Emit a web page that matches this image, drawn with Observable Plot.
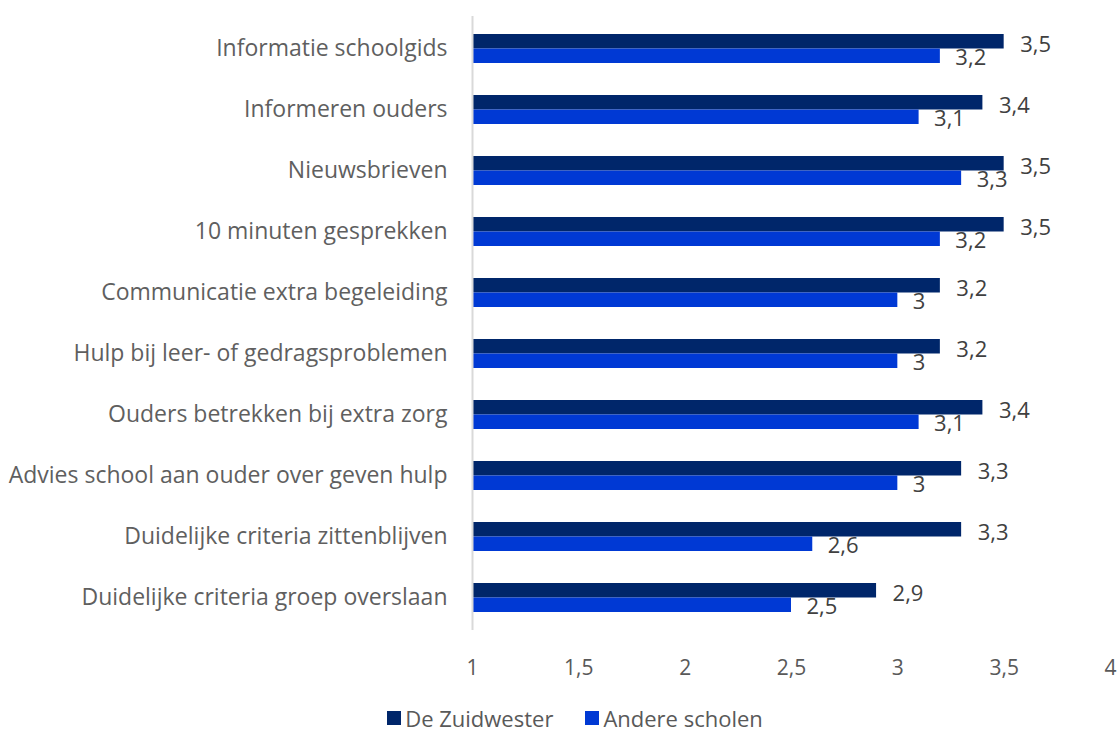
<!DOCTYPE html>
<html><head><meta charset="utf-8">
<script src="https://cdn.jsdelivr.net/npm/d3@7"></script>
<script src="https://cdn.jsdelivr.net/npm/@observablehq/plot@0.6"></script>
<style>
body{margin:0;background:#fff;font-family:"Open Sans",sans-serif;overflow:hidden;}
#legend{display:flex;justify-content:center;gap:32px;font-size:22px;line-height:26px;color:#595959;margin-top:15px;margin-left:30px;}
#legend span{display:flex;align-items:center;gap:4px;}
#legend i{display:inline-block;width:14px;height:14px;}
</style></head>
<body>
<div id="chart"></div>
<div id="legend"></div>
<script>
const categories = ["Informatie schoolgids","Informeren ouders","Nieuwsbrieven","10 minuten gesprekken","Communicatie extra begeleiding","Hulp bij leer- of gedragsproblemen","Ouders betrekken bij extra zorg","Advies school aan ouder over geven hulp","Duidelijke criteria zittenblijven","Duidelijke criteria groep overslaan"];
const series = ["De Zuidwester","Andere scholen"];
const zuidwester = [3.5,3.4,3.5,3.5,3.2,3.2,3.4,3.3,3.3,2.9];
const andere = [3.2,3.1,3.3,3.2,3.0,3.0,3.1,3.0,2.6,2.5];
const xTicks = [1,1.5,2,2.5,3,3.5,4];
const colors = ["#00266a","#0039d4"];

const fmt = v => String(v).replace(".", ",");
const dataA = categories.map((c,i)=>({cat:c, v:zuidwester[i]}));
const dataB = categories.map((c,i)=>({cat:c, v:andere[i]}));
const half = 14.5;

const chart = Plot.plot({
  width: 1120, height: 690,
  marginLeft: 472, marginRight: 10, marginTop: 16, marginBottom: 60,
  style: {fontFamily: '"Open Sans", sans-serif', fontSize: "20px", color: "#595959"},
  x: {domain: [1,4], ticks: xTicks, tickFormat: fmt, label: null},
  y: {domain: categories, paddingInner: 0.53, paddingOuter: 0.265, label: null},
  marks: [
    Plot.axisX({ticks: xTicks, tickFormat: fmt, tickSize: 0, tickPadding: 30, fontSize: 21, fill: "#595959", label: null}),
    Plot.axisY({tickSize: 0, tickPadding: 25, fontSize: 23, fill: "#5f5f5f", label: null}),
    Plot.barX(dataA, {x1: 1, x2: "v", y: "cat", fill: colors[0], insetBottom: half}),
    Plot.barX(dataB, {x1: 1, x2: "v", y: "cat", fill: colors[1], insetTop: half}),
    Plot.ruleX([1], {stroke: "#d9d9d9", strokeWidth: 2}),
    Plot.text(dataA, {x: "v", y: "cat", text: d => fmt(d.v), textAnchor: "start", dx: 16, dy: -4, fill: "#404040", fontSize: 22}),
    Plot.text(dataB, {x: "v", y: "cat", text: d => fmt(d.v), textAnchor: "start", dx: 15, dy: 9, fill: "#404040", fontSize: 22})
  ]
});
document.getElementById("chart").appendChild(chart);
const lg = document.getElementById("legend");
series.forEach((s,i)=>{
  const sp = document.createElement("span");
  sp.innerHTML = `<i style="background:${colors[i]}"></i>${s}`;
  lg.appendChild(sp);
});
</script>
</body></html>
